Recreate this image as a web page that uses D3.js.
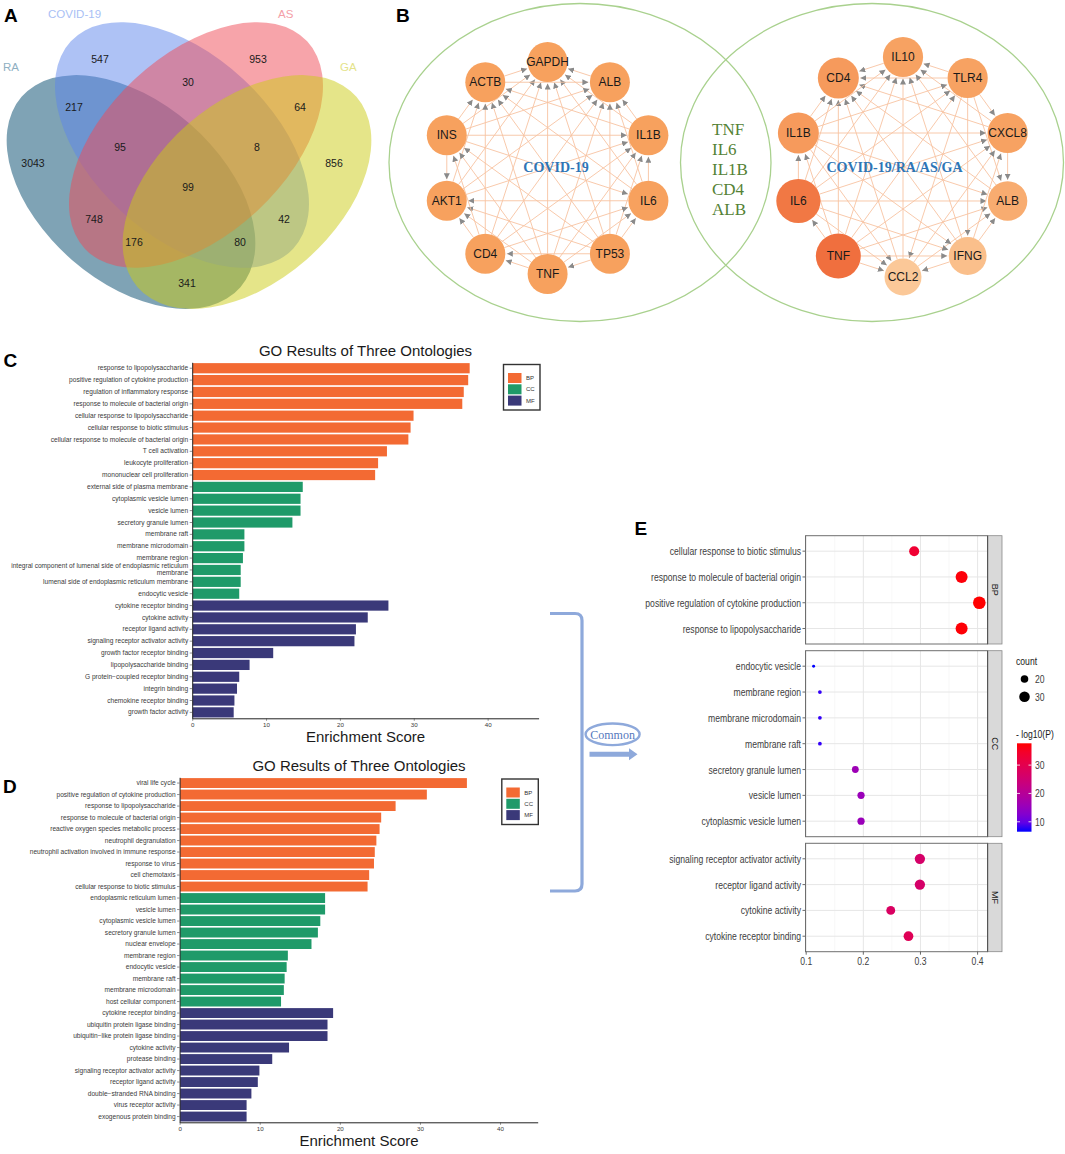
<!DOCTYPE html>
<meta charset="utf-8">
<head>
  <title>COVID-19 / RA / AS / GA</title>
</head>
<style>
body { margin: 0; background: #fff; }
text { font-family: "Liberation Sans", Arial, sans-serif; }
.serif { font-family: "Liberation Serif", "Times New Roman", serif; }
</style>
<body>
<script src="https://d3js.org/d3.v7.min.js"></script>
<script>

// ---------- data ----------
// A: venn
var vennSets = ["RA", "COVID-19", "AS", "GA"];
var vennRegions = ["RA", "COVID-19", "AS", "GA", "RA&COVID-19", "COVID-19&AS", "AS&GA", "RA&GA",
                   "RA&AS", "COVID-19&GA", "RA&COVID-19&AS", "COVID-19&AS&GA", "RA&COVID-19&GA", "RA&AS&GA", "ALL"];
var vennCounts = [3043, 547, 953, 856, 217, 30, 64, 341, 748, 42, 95, 8, 80, 176, 99];

// B: networks (ring order clockwise from top)
var leftNodes = ["GAPDH", "ALB", "IL1B", "IL6", "TP53", "TNF", "CD4", "AKT1", "INS", "ACTB"];
var leftEdges = [
  "ALB>GAPDH", "ACTB>GAPDH", "IL1B>GAPDH", "AKT1>GAPDH", "IL6>GAPDH", "INS>GAPDH", "CD4>GAPDH", "TNF>GAPDH", "TP53>GAPDH",
  "ACTB>ALB", "IL1B>ALB", "AKT1>ALB", "IL6>ALB", "INS>ALB", "CD4>ALB", "TNF>ALB", "TP53>ALB",
  "IL1B>ACTB", "AKT1>ACTB", "IL6>ACTB", "INS>ACTB", "CD4>ACTB", "TNF>ACTB", "TP53>ACTB",
  "AKT1>IL1B", "IL6>IL1B", "INS>IL1B", "CD4>IL1B", "TNF>IL1B", "TP53>IL1B",
  "IL6>AKT1", "INS>AKT1", "CD4>AKT1", "TNF>AKT1", "TP53>AKT1",
  "INS>IL6", "CD4>IL6", "TNF>IL6", "TP53>IL6",
  "CD4>INS", "TNF>INS", "TP53>INS",
  "TNF>CD4", "TP53>CD4",
  "TP53>TNF"];
var rightNodes = ["IL10", "TLR4", "CXCL8", "ALB", "IFNG", "CCL2", "TNF", "IL6", "IL1B", "CD4"];
var rightEdges = [
  "IL10>CD4", "ALB>CD4", "CXCL8>CD4", "CCL2>CD4", "IFNG>CD4", "TLR4>CD4", "IL1B>CD4", "IL6>CD4", "TNF>CD4",
  "ALB>IL10", "CXCL8>IL10", "CCL2>IL10", "IFNG>IL10", "TLR4>IL10", "IL1B>IL10", "IL6>IL10", "TNF>IL10",
  "CXCL8>ALB", "CCL2>ALB", "IFNG>ALB", "TLR4>ALB", "IL1B>ALB", "IL6>ALB", "TNF>ALB",
  "CCL2>CXCL8", "IFNG>CXCL8", "TLR4>CXCL8", "IL1B>CXCL8", "IL6>CXCL8", "TNF>CXCL8",
  "IFNG>CCL2", "TLR4>CCL2", "IL1B>CCL2", "IL6>CCL2", "TNF>CCL2",
  "TLR4>IFNG", "IL1B>IFNG", "IL6>IFNG", "TNF>IFNG",
  "IL1B>TLR4", "IL6>TLR4", "TNF>TLR4",
  "IL6>IL1B", "TNF>IL1B",
  "TNF>IL6"];
var rightDegree = [13, 13, 13, 12, 10, 9, 19, 18, 14, 14];
var commonGenes = ["TNF", "IL6", "IL1B", "CD4", "ALB"];

// C: GO enrichment, COVID-19 + RA/AS/GA
var goCTerms = ["response to lipopolysaccharide", "positive regulation of cytokine production", "regulation of inflammatory response",
  "response to molecule of bacterial origin", "cellular response to lipopolysaccharide", "cellular response to biotic stimulus",
  "cellular response to molecule of bacterial origin", "T cell activation", "leukocyte proliferation", "mononuclear cell proliferation",
  "external side of plasma membrane", "cytoplasmic vesicle lumen", "vesicle lumen", "secretory granule lumen", "membrane raft",
  "membrane microdomain", "membrane region", "integral component of lumenal side of endoplasmic reticulum membrane",
  "lumenal side of endoplasmic reticulum membrane", "endocytic vesicle",
  "cytokine receptor binding", "cytokine activity", "receptor ligand activity", "signaling receptor activator activity",
  "growth factor receptor binding", "lipopolysaccharide binding", "G protein\u2212coupled receptor binding", "integrin binding",
  "chemokine receptor binding", "growth factor activity"];
var goCScore = [37.5, 37.3, 36.7, 36.5, 29.9, 29.5, 29.2, 26.3, 25.1, 24.7,
                14.9, 14.6, 14.6, 13.5, 7.0, 7.0, 6.8, 6.5, 6.5, 6.3,
                26.5, 23.7, 22.1, 21.9, 10.9, 7.7, 6.3, 6.0, 5.65, 5.55];
var goCType = ["BP", "BP", "BP", "BP", "BP", "BP", "BP", "BP", "BP", "BP",
               "CC", "CC", "CC", "CC", "CC", "CC", "CC", "CC", "CC", "CC",
               "MF", "MF", "MF", "MF", "MF", "MF", "MF", "MF", "MF", "MF"];

// D: GO enrichment, COVID-19
var goDTerms = ["viral life cycle", "positive regulation of cytokine production", "response to lipopolysaccharide",
  "response to molecule of bacterial origin", "reactive oxygen species metabolic process", "neutrophil degranulation",
  "neutrophil activation involved in immune response", "response to virus", "cell chemotaxis", "cellular response to biotic stimulus",
  "endoplasmic reticulum lumen", "vesicle lumen", "cytoplasmic vesicle lumen", "secretory granule lumen", "nuclear envelope",
  "membrane region", "endocytic vesicle", "membrane raft", "membrane microdomain", "host cellular component",
  "cytokine receptor binding", "ubiquitin protein ligase binding", "ubiquitin\u2212like protein ligase binding", "cytokine activity",
  "protease binding", "signaling receptor activator activity", "receptor ligand activity", "double\u2212stranded RNA binding",
  "virus receptor activity", "exogenous protein binding"];
var goDScore = [35.8, 30.8, 26.9, 25.1, 24.9, 24.5, 24.3, 24.2, 23.6, 23.4,
                18.1, 18.1, 17.5, 17.2, 16.4, 13.45, 13.3, 13.05, 12.95, 12.6,
                19.1, 18.4, 18.4, 13.6, 11.5, 9.9, 9.7, 8.9, 8.3, 8.3];
var goDType = goCType.slice();

// E: common terms dot plot
var dotTerms = ["cellular response to biotic stimulus", "response to molecule of bacterial origin",
  "positive regulation of cytokine production", "response to lipopolysaccharide",
  "endocytic vesicle", "membrane region", "membrane microdomain", "membrane raft", "secretory granule lumen",
  "vesicle lumen", "cytoplasmic vesicle lumen",
  "signaling receptor activator activity", "receptor ligand activity", "cytokine activity", "cytokine receptor binding"];
var dotOnt = ["BP", "BP", "BP", "BP", "CC", "CC", "CC", "CC", "CC", "CC", "CC", "MF", "MF", "MF", "MF"];
var dotRatio = [0.289, 0.372, 0.403, 0.372, 0.113, 0.124, 0.124, 0.124, 0.186, 0.196, 0.196, 0.299, 0.299, 0.248, 0.279];
var dotCount = [28, 36, 39, 36, 11, 12, 12, 12, 18, 19, 19, 29, 29, 24, 27];
var dotLogP = [33.5, 37.2, 37.7, 37.4, 6.5, 7.4, 7.4, 7.4, 16, 15.5, 15.5, 26.5, 26.5, 27.5, 29];
var ontologies = ["BP", "CC", "MF"];

// ---------- setup ----------
var width = 1065, height = 1154;
var svg = d3.select("body").append("svg")
  .attr("width", width)
  .attr("height", height)
  .style("background", "#fff");

function ctext(g, x, y, str, size, sx, anchor) {
  return g.append("text")
    .attr("transform", "translate(" + x + "," + y + ") scale(" + sx + ",1)")
    .attr("text-anchor", anchor || "start")
    .attr("font-size", size)
    .text(str);
}

function panelLetter(x, y, s) {
  svg.append("text").attr("x", x).attr("y", y).attr("font-size", 19).attr("font-weight", "bold")
    .attr("fill", "#000").text(s);
}

// ---------- A: venn ----------
var vennShape = {
  "RA":       {cx: 131, cy: 192, rx: 145, ry: 90, rot: 41,  fill: "#00476b", lx: 3,   ly: 71, lc: "#8fb0c2"},
  "COVID-19": {cx: 182, cy: 145, rx: 152, ry: 90, rot: 43,  fill: "#5d85eb", lx: 48,  ly: 18, lc: "#a9bff5"},
  "AS":       {cx: 196, cy: 145, rx: 152, ry: 90, rot: -43, fill: "#ef4a56", lx: 278, ly: 18, lc: "#f4a0a8"},
  "GA":       {cx: 247, cy: 192, rx: 145, ry: 90, rot: -41, fill: "#cbcb13", lx: 340, ly: 71, lc: "#e4e38a"}
};
var vennSpot = {
  "RA": [33, 163], "COVID-19": [100, 59], "AS": [258, 59], "GA": [334, 163],
  "RA&COVID-19": [74, 107], "COVID-19&AS": [188, 82], "AS&GA": [300, 107], "RA&GA": [187, 283],
  "RA&AS": [94, 219], "COVID-19&GA": [284, 219], "RA&COVID-19&AS": [120, 147], "COVID-19&AS&GA": [257, 147],
  "RA&COVID-19&GA": [240, 242], "RA&AS&GA": [134, 242], "ALL": [188, 187]
};
var gA = svg.append("g");
gA.selectAll("ellipse").data(vennSets).enter().append("ellipse")
  .attr("cx", 0).attr("cy", 0)
  .attr("rx", function(d) { return vennShape[d].rx; })
  .attr("ry", function(d) { return vennShape[d].ry; })
  .attr("transform", function(d) { var s = vennShape[d]; return "translate(" + s.cx + "," + s.cy + ") rotate(" + s.rot + ")"; })
  .attr("fill", function(d) { return vennShape[d].fill; })
  .attr("fill-opacity", 0.5);
gA.selectAll("text.cat").data(vennSets).enter().append("text")
  .attr("class", "cat")
  .attr("x", function(d) { return vennShape[d].lx; })
  .attr("y", function(d) { return vennShape[d].ly; })
  .attr("font-size", 11.5)
  .attr("fill", function(d) { return vennShape[d].lc; })
  .text(function(d) { return d; });
gA.selectAll("text.num").data(vennRegions).enter().append("text")
  .attr("class", "num")
  .attr("x", function(d) { return vennSpot[d][0]; })
  .attr("y", function(d) { return vennSpot[d][1] + 3.8; })
  .attr("text-anchor", "middle")
  .attr("font-size", 10.5)
  .attr("fill", "#1a1a1a")
  .text(function(d, i) { return vennCounts[i]; });
panelLetter(4, 22, "A");

// ---------- B: networks ----------
var gB = svg.append("g");
gB.append("ellipse").attr("cx", 580).attr("cy", 162.5).attr("rx", 191).attr("ry", 159)
  .attr("fill", "none").attr("stroke", "#a9d18e").attr("stroke-width", 1.3);
gB.append("ellipse").attr("cx", 872).attr("cy", 162.5).attr("rx", 191.5).attr("ry", 159)
  .attr("fill", "none").attr("stroke", "#a9d18e").attr("stroke-width", 1.3);

svg.append("defs").append("marker")
  .attr("id", "arr").attr("viewBox", "0 0 10 10").attr("refX", 10).attr("refY", 5)
  .attr("markerWidth", 6).attr("markerHeight", 6).attr("markerUnits", "userSpaceOnUse")
  .attr("orient", "auto")
  .append("path").attr("d", "M0,0 L10,5 L0,10 z").attr("fill", "#8a8a8a");

function network(nodes, edges, cx, cy, rad, nodeR, nodeFill) {
  var pos = {};
  nodes.forEach(function(n, i) {
    var a = -Math.PI / 2 + i * 2 * Math.PI / nodes.length;
    pos[n] = {x: cx + rad * Math.cos(a), y: cy + rad * Math.sin(a), r: nodeR(n, i)};
  });
  var g = gB.append("g");
  g.selectAll("line").data(edges).enter().append("line")
    .each(function(e) {
      var p = e.split(">"), s = pos[p[0]], t = pos[p[1]];
      var dx = t.x - s.x, dy = t.y - s.y, L = Math.sqrt(dx * dx + dy * dy);
      d3.select(this)
        .attr("x1", s.x + dx / L * s.r).attr("y1", s.y + dy / L * s.r)
        .attr("x2", t.x - dx / L * (t.r + 1.5)).attr("y2", t.y - dy / L * (t.r + 1.5));
    })
    .attr("stroke", "#f7c3a2").attr("stroke-width", 0.9)
    .attr("marker-end", "url(#arr)");
  g.selectAll("circle").data(nodes).enter().append("circle")
    .attr("cx", function(n) { return pos[n].x; })
    .attr("cy", function(n) { return pos[n].y; })
    .attr("r", function(n) { return pos[n].r; })
    .attr("fill", function(n, i) { return nodeFill(n, i); });
  g.selectAll("text").data(nodes).enter().append("text")
    .attr("x", function(n) { return pos[n].x; })
    .attr("y", function(n) { return pos[n].y + 4.2; })
    .attr("text-anchor", "middle").attr("font-size", 12).attr("fill", "#1a1a1a")
    .text(function(n) { return n; });
}
network(leftNodes, leftEdges, 547.6, 168, 106, function() { return 20; }, function() { return "#f7a15e"; });

var degColor = d3.scaleLinear().domain([9, 13, 19]).range(["#fbc898", "#f7a262", "#f06f3e"]);
var degSize = d3.scaleLinear().domain([9, 19]).range([18.5, 22.5]);
network(rightNodes, rightEdges, 903, 167, 110,
  function(n, i) { return degSize(rightDegree[i]); },
  function(n, i) { return degColor(rightDegree[i]); });

gB.append("text").attr("class", "serif").attr("x", 556).attr("y", 171.5).attr("text-anchor", "middle")
  .attr("font-size", 14).attr("font-weight", "bold").attr("fill", "#2e75b6").text("COVID-19");
gB.append("text").attr("class", "serif").attr("x", 894.5).attr("y", 171.5).attr("text-anchor", "middle")
  .attr("font-size", 14).attr("font-weight", "bold").attr("fill", "#2e75b6").text("COVID-19/RA/AS/GA");
gB.selectAll("text.cg").data(commonGenes).enter().append("text")
  .attr("class", "serif cg")
  .attr("x", 712).attr("y", function(d, i) { return 134.5 + i * 20.2; })
  .attr("font-size", 17).attr("fill", "#548235")
  .text(function(d) { return d; });
panelLetter(396, 22, "B");

// ---------- C / D: bar charts ----------
var ontColor = {BP: "#f36a33", CC: "#1f9a69", MF: "#3a3979"};

function barPanel(o) {
  var g = svg.append("g");
  var x = d3.scaleLinear().domain([0, o.xmax]).range([o.x0, o.x1]);
  var y = d3.scaleBand().domain(o.terms).range([o.y0, o.y1]).paddingInner(0.14).paddingOuter(0.07);

  g.selectAll("rect.bar").data(o.terms).enter().append("rect")
    .attr("class", "bar")
    .attr("x", x(0) + 0.5)
    .attr("y", function(d) { return y(d); })
    .attr("width", function(d, i) { return x(o.scores[i]) - x(0); })
    .attr("height", y.bandwidth())
    .attr("fill", function(d, i) { return ontColor[o.types[i]]; });

  var ax = g.append("g").attr("transform", "translate(0," + o.y1 + ")")
    .call(d3.axisBottom(x).tickValues([0, 10, 20, 30, 40]).tickSize(2.5).tickSizeOuter(0).tickPadding(1.5));
  var ay = g.append("g").attr("transform", "translate(" + o.x0 + ",0)")
    .call(d3.axisLeft(y).tickSize(2.5).tickSizeOuter(0).tickPadding(1.5));
  [ax, ay].forEach(function(a) {
    a.selectAll("path").attr("stroke", "#222").attr("stroke-width", 1);
    a.selectAll("line").attr("stroke", "#444").attr("stroke-width", 0.6);
    a.selectAll("text").attr("fill", "#3a3a3a").attr("font-family", "Liberation Sans, Arial, sans-serif");
  });
  ax.selectAll("text").attr("font-size", 6.2);
  ay.selectAll("text").attr("font-size", 6.6)
    .each(function(d) {
      if (d.length > 60) {
        var t = d3.select(this), cut = d.lastIndexOf(" ");
        t.text(null);
        t.append("tspan").attr("x", -4).attr("dy", "-0.25em").text(d.slice(0, cut));
        t.append("tspan").attr("x", -4).attr("dy", "1.0em").text(d.slice(cut + 1));
      }
    });

  g.append("text").attr("x", o.titleX).attr("y", o.titleY).attr("text-anchor", "middle")
    .attr("font-size", 15).attr("fill", "#1a1a1a").text("GO Results of Three Ontologies");
  g.append("text").attr("x", o.titleX).attr("y", o.xlabY).attr("text-anchor", "middle")
    .attr("font-size", 15).attr("fill", "#1a1a1a").text("Enrichment Score");

  var lg = g.append("g").attr("transform", "translate(" + o.legX + "," + o.legY + ")");
  lg.append("rect").attr("width", 36.5).attr("height", 45.5)
    .attr("fill", "#fff").attr("stroke", "#333").attr("stroke-width", 1.4);
  lg.selectAll("rect.key").data(ontologies).enter().append("rect")
    .attr("class", "key")
    .attr("x", 4.5).attr("y", function(d, i) { return 8.5 + i * 11.3; })
    .attr("width", 13.5).attr("height", 10)
    .attr("fill", function(d) { return ontColor[d]; });
  lg.selectAll("text").data(ontologies).enter().append("text")
    .attr("x", 22.5).attr("y", function(d, i) { return 15.6 + i * 11.3; })
    .attr("font-size", 6).attr("fill", "#333")
    .text(function(d) { return d; });
}

barPanel({terms: goCTerms, scores: goCScore, types: goCType, xmax: 46.9,
  x0: 192.2, x1: 538.6, y0: 362.3, y1: 718.3,
  titleX: 365.5, titleY: 355.5, xlabY: 742, legX: 503.5, legY: 364.5});
panelLetter(3.5, 367, "C");

barPanel({terms: goDTerms, scores: goDScore, types: goDType, xmax: 44.7,
  x0: 179.6, x1: 537.7, y0: 777.3, y1: 1122.3,
  titleX: 359, titleY: 770.5, xlabY: 1145.5, legX: 501.8, legY: 779});
panelLetter(3, 793, "D");

// ---------- bracket + Common ----------
var bc = "#8ea9db";
svg.append("path").attr("d", "M550,613.5 L575,613.5 Q582,613.5 582,620.5 L582,884 Q582,891 575,891 L550,891")
  .attr("fill", "none").attr("stroke", bc).attr("stroke-width", 3.2);
svg.append("ellipse").attr("cx", 612.6).attr("cy", 734.3).attr("rx", 27).attr("ry", 10.8)
  .attr("fill", "#fff").attr("stroke", bc).attr("stroke-width", 2.4);
svg.append("text").attr("class", "serif").attr("x", 612.6).attr("y", 738.5).attr("text-anchor", "middle")
  .attr("font-size", 12).attr("fill", "#5578bd").text("Common");
svg.append("path").attr("d", "M589.5,751.8 L629,751.8 L629,748.3 L637.5,754.3 L629,760.3 L629,756.8 L589.5,756.8 Z")
  .attr("fill", bc);

// ---------- E: dot plot ----------
var gE = svg.append("g");
var ex = d3.scaleLinear().domain([0.0988, 0.4175]).range([805.5, 987.6]);
var facetBox = {BP: [535.7, 644], CC: [650.7, 836.7], MF: [843.3, 951.7]};
var colorP = d3.scaleLinear().domain(d3.extent(dotLogP)).range(["blue", "red"]).interpolate(d3.interpolateLab);
var countExt = d3.extent(dotCount);
var areaScale = d3.scaleLinear().domain(countExt).range([2.2, 40]);
function dotR(c) { return Math.sqrt(areaScale(c)); }
var sx = 0.75;

ontologies.forEach(function(ont) {
  var b = facetBox[ont];
  var terms = dotTerms.filter(function(t, i) { return dotOnt[i] === ont; });
  var ey = d3.scalePoint().domain(terms).range([b[0], b[1]]).padding(0.6);
  var pg = gE.append("g");
  pg.append("rect").attr("x", ex.range()[0]).attr("y", b[0])
    .attr("width", ex.range()[1] - ex.range()[0]).attr("height", b[1] - b[0]).attr("fill", "#fff");
  [0.15, 0.25, 0.35].forEach(function(v) {
    pg.append("line").attr("x1", ex(v)).attr("x2", ex(v)).attr("y1", b[0]).attr("y2", b[1])
      .attr("stroke", "#f3f3f3").attr("stroke-width", 0.6);
  });
  [0.1, 0.2, 0.3, 0.4].forEach(function(v) {
    pg.append("line").attr("x1", ex(v)).attr("x2", ex(v)).attr("y1", b[0]).attr("y2", b[1])
      .attr("stroke", "#e6e6e6").attr("stroke-width", 1);
  });
  terms.forEach(function(t) {
    pg.append("line").attr("x1", ex.range()[0]).attr("x2", ex.range()[1]).attr("y1", ey(t)).attr("y2", ey(t))
      .attr("stroke", "#e6e6e6").attr("stroke-width", 1);
    pg.append("line").attr("x1", ex.range()[0] - 3).attr("x2", ex.range()[0]).attr("y1", ey(t)).attr("y2", ey(t))
      .attr("stroke", "#444").attr("stroke-width", 0.8);
    ctext(pg, ex.range()[0] - 4.5, ey(t) + 4, t, 11.5, sx, "end").attr("fill", "#3d3d3d");
  });
  dotTerms.forEach(function(t, i) {
    if (dotOnt[i] !== ont) return;
    pg.append("circle").attr("cx", ex(dotRatio[i])).attr("cy", ey(t))
      .attr("r", dotR(dotCount[i])).attr("fill", colorP(dotLogP[i]));
  });
  pg.append("rect").attr("x", ex.range()[0]).attr("y", b[0])
    .attr("width", ex.range()[1] - ex.range()[0]).attr("height", b[1] - b[0])
    .attr("fill", "none").attr("stroke", "#6e6e6e").attr("stroke-width", 1);
  pg.append("rect").attr("x", ex.range()[1]).attr("y", b[0]).attr("width", 14.4).attr("height", b[1] - b[0])
    .attr("fill", "#d9d9d9").attr("stroke", "#8a8a8a").attr("stroke-width", 0.8);
  pg.append("line").attr("x1", ex.range()[1]).attr("x2", ex.range()[1]).attr("y1", b[0]).attr("y2", b[1])
    .attr("stroke", "#555").attr("stroke-width", 1.2);
  pg.append("text")
    .attr("transform", "translate(" + (ex.range()[1] + 7.2) + "," + ((b[0] + b[1]) / 2) + ") rotate(90)")
    .attr("text-anchor", "middle").attr("dy", "0.35em").attr("font-size", 9).attr("fill", "#1a1a1a")
    .text(ont);
});

var eAxisY = facetBox.MF[1];
[0.1, 0.2, 0.3, 0.4].forEach(function(v) {
  gE.append("line").attr("x1", ex(v)).attr("x2", ex(v)).attr("y1", eAxisY).attr("y2", eAxisY + 3)
    .attr("stroke", "#444").attr("stroke-width", 0.8);
  ctext(gE, ex(v), eAxisY + 13, String(v), 11.5, sx, "middle").attr("fill", "#3d3d3d");
});

// size legend
ctext(gE, 1016, 664.5, "count", 11.5, sx).attr("fill", "#1a1a1a");
[20, 30].forEach(function(c, i) {
  gE.append("circle").attr("cx", 1024.5).attr("cy", 679 + i * 17.7).attr("r", dotR(c)).attr("fill", "#000");
  ctext(gE, 1035, 683 + i * 17.7, String(c), 11.5, sx).attr("fill", "#3d3d3d");
});

// colour legend
var cbTop = 743.3, cbBot = 831.7;
var cbScale = d3.scaleLinear().domain(colorP.domain()).range([cbBot, cbTop]);
var grad = svg.select("defs").append("linearGradient").attr("id", "cbar")
  .attr("x1", 0).attr("y1", 1).attr("x2", 0).attr("y2", 0);
d3.range(0, 1.0001, 0.1).forEach(function(t) {
  var v = colorP.domain()[0] + t * (colorP.domain()[1] - colorP.domain()[0]);
  grad.append("stop").attr("offset", t).attr("stop-color", colorP(v));
});
ctext(gE, 1016, 737.5, "- log10(P)", 11.5, sx).attr("fill", "#1a1a1a");
gE.append("rect").attr("x", 1017).attr("y", cbTop).attr("width", 14.5).attr("height", cbBot - cbTop)
  .attr("fill", "url(#cbar)");
[10, 20, 30].forEach(function(v) {
  gE.append("line").attr("x1", 1017).attr("x2", 1020).attr("y1", cbScale(v)).attr("y2", cbScale(v))
    .attr("stroke", "#fff").attr("stroke-width", 0.8);
  gE.append("line").attr("x1", 1028.5).attr("x2", 1031.5).attr("y1", cbScale(v)).attr("y2", cbScale(v))
    .attr("stroke", "#fff").attr("stroke-width", 0.8);
  ctext(gE, 1035, cbScale(v) + 4, String(v), 11.5, sx).attr("fill", "#3d3d3d");
});
panelLetter(634.5, 534.5, "E");

</script>
</body>
